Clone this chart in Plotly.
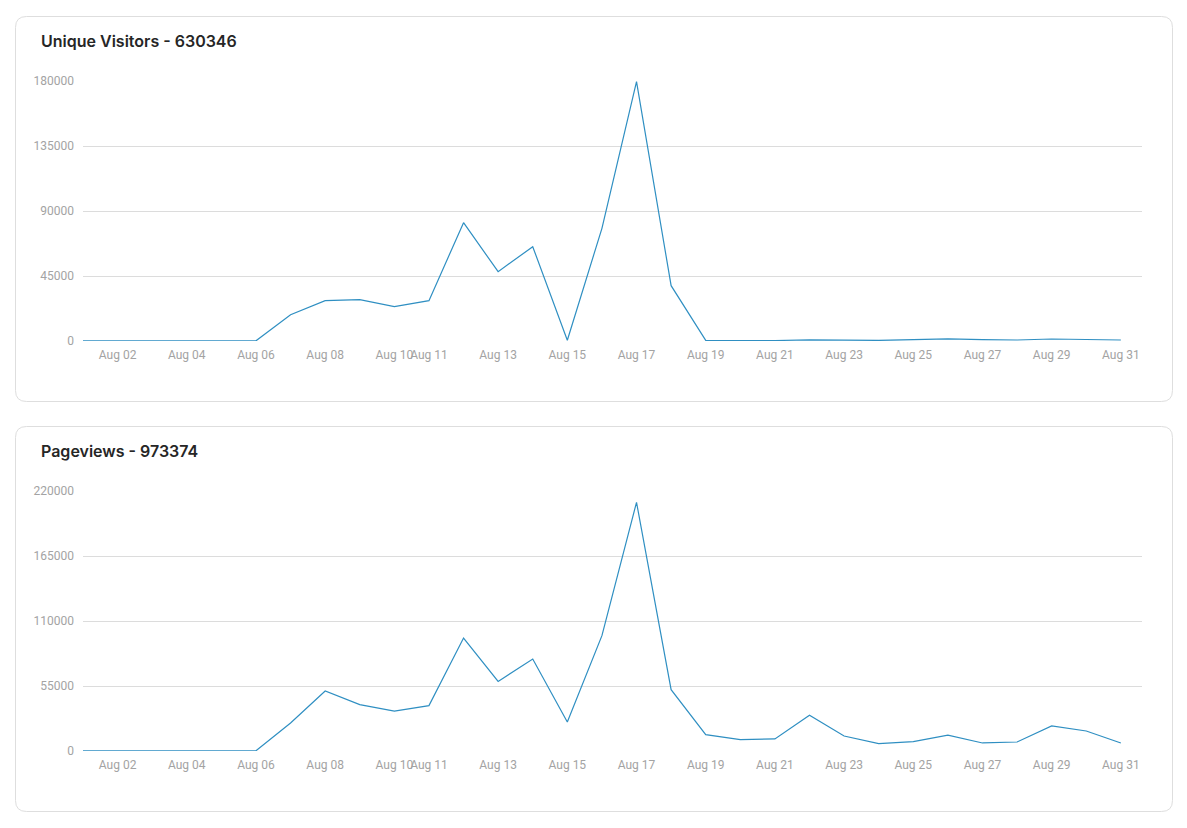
import plotly.graph_objects as go

dates = [f"2024-08-{d:02d}" for d in range(1, 32)]

visitors = [150, 120, 100, 130, 110, 140,
            18200, 27900, 28600, 23800, 27900, 81900, 48000, 65300, 500,
            78000, 179500, 38300, 500,
            400, 300, 800, 600, 400, 900, 1500, 900, 700, 1400, 1300, 700]

pageviews = [200, 180, 160, 190, 170, 210,
             23700, 50800, 39200, 33800, 38400, 95600, 58900, 77800, 24500,
             97600, 210400, 51900, 13800,
             9600, 10200, 30200, 12700, 6200, 7900, 13500, 6800, 7600, 21200, 16900, 6800]

tick_dates = ["2024-08-02", "2024-08-04", "2024-08-06", "2024-08-08", "2024-08-10",
              "2024-08-11", "2024-08-13", "2024-08-15", "2024-08-17", "2024-08-19",
              "2024-08-21", "2024-08-23", "2024-08-25", "2024-08-27", "2024-08-29",
              "2024-08-31"]
tick_text = ["Aug 02", "Aug 04", "Aug 06", "Aug 08", "Aug 10", "Aug 11", "Aug 13",
             "Aug 15", "Aug 17", "Aug 19", "Aug 21", "Aug 23", "Aug 25", "Aug 27",
             "Aug 29", "Aug 31"]

titles = ["Unique Visitors - 630346", "Pageviews - 973374"]
y_ticks_top = [0, 45000, 90000, 135000, 180000]
y_ticks_bot = [0, 55000, 110000, 165000, 220000]

W, H = 1187, 828
LINE = "#2f8fc2"

fig = go.Figure()
fig.add_trace(go.Scatter(x=dates, y=visitors, mode="lines", xaxis="x", yaxis="y",
                         line=dict(color=LINE, width=1.2), hoverinfo="x+y"))
fig.add_trace(go.Scatter(x=dates, y=pageviews, mode="lines", xaxis="x2", yaxis="y2",
                         line=dict(color=LINE, width=1.2), hoverinfo="x+y"))

def px_x(p):
    return p / W

def px_y(p):
    return 1 - p / H

xr = ["2024-08-01", "2024-08-31 14:40"]
xcommon = dict(range=xr, tickmode="array", tickvals=tick_dates, ticktext=tick_text,
               showgrid=False, zeroline=False, showline=False, ticks="", tickangle=0,
               tickfont=dict(family="Roboto", size=12, color="#a3a3a3"),
               ticklabelstandoff=5, fixedrange=True, automargin=False)
ycommon = dict(showgrid=True, gridcolor="#dcdcdc", gridwidth=1, zeroline=False,
               showline=False, ticks="", tickmode="array",
               tickfont=dict(family="Roboto", size=12, color="#a3a3a3"),
               ticklabelstandoff=8, fixedrange=True, automargin=False)

dom_x = [px_x(83), px_x(1142)]
fig.update_layout(
    width=W, height=H, autosize=False,
    margin=dict(l=0, r=0, t=0, b=0, pad=0, autoexpand=False),
    paper_bgcolor="white", plot_bgcolor="white",
    showlegend=False,
    xaxis=dict(domain=dom_x, anchor="y", **xcommon),
    yaxis=dict(domain=[px_y(341), px_y(81)], anchor="x", range=[0, 180000],
               tickvals=y_ticks_top, ticktext=[str(v) for v in y_ticks_top], **ycommon),
    xaxis2=dict(domain=dom_x, anchor="y2", **xcommon),
    yaxis2=dict(domain=[px_y(751), px_y(491)], anchor="x2", range=[0, 220000],
                tickvals=y_ticks_bot, ticktext=[str(v) for v in y_ticks_bot], **ycommon),
)

def rounded_rect(x0, y0, x1, y1, r):
    def P(x, y):
        return f"{x / W:.5f},{1 - y / H:.5f}"
    return (f"M {P(x0 + r, y0)} L {P(x1 - r, y0)} Q {P(x1, y0)} {P(x1, y0 + r)} "
            f"L {P(x1, y1 - r)} Q {P(x1, y1)} {P(x1 - r, y1)} "
            f"L {P(x0 + r, y1)} Q {P(x0, y1)} {P(x0, y1 - r)} "
            f"L {P(x0, y0 + r)} Q {P(x0, y0)} {P(x0 + r, y0)} Z")

cards = [(15.5, 16.5, 1172.5, 401.5), (15.5, 426.5, 1172.5, 811.5)]
for (x0, y0, x1, y1) in cards:
    fig.add_shape(type="path", path=rounded_rect(x0, y0, x1, y1, 11),
                  xref="paper", yref="paper", line=dict(color="#dedede", width=1),
                  fillcolor="rgba(0,0,0,0)", layer="below")

for t, ypix in zip(titles, [41, 451]):
    fig.add_annotation(text=t, xref="paper", yref="paper", x=39 / W, y=1 - ypix / H,
                       xanchor="left", yanchor="middle", showarrow=False,
                       font=dict(family="Inter", size=16, color="#262626", weight=600))

post = ("document.body.style.margin='0';document.body.style.padding='0';"
        "document.body.style.overflow='hidden';"
        "var gd=document.getElementById('{plot_id}');"
        "gd.style.position='absolute';gd.style.left='0px';gd.style.top='0px';")
fig.write_html("out.html", post_script=post, config={"displayModeBar": False})
